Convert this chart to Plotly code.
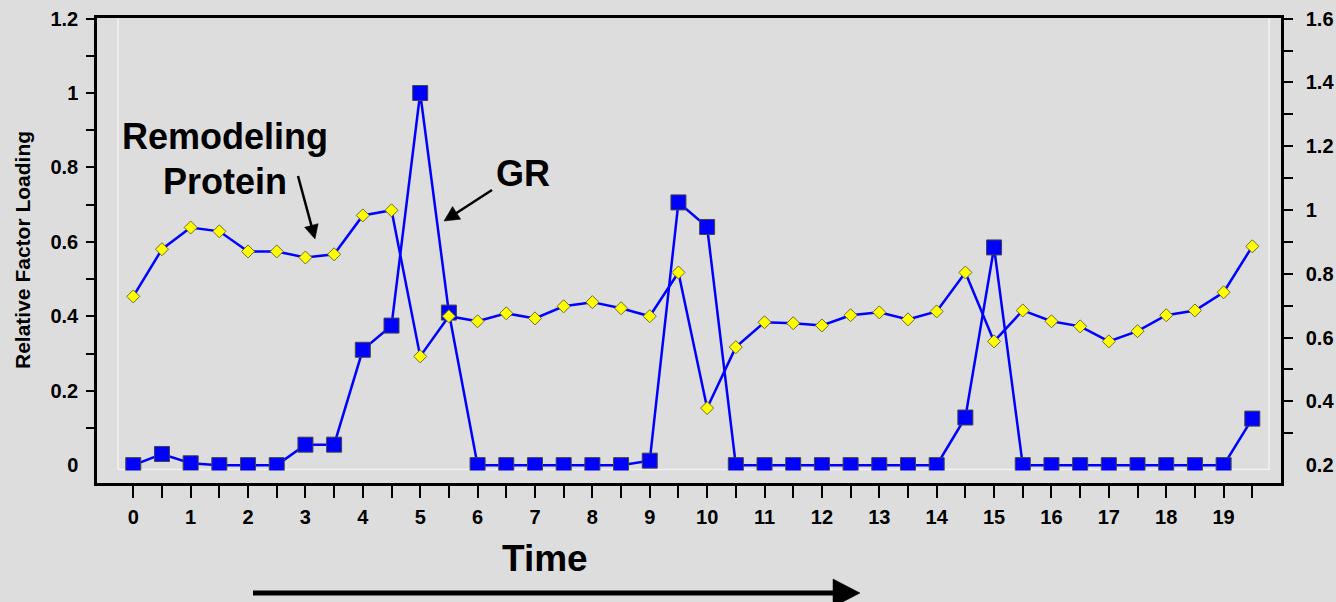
import math
import plotly.graph_objects as go

# ---------------- data ----------------
time_points = [i * 0.5 for i in range(40)]  # 0 .. 19.5

gr_loading = [0.0, 0.03, 0.005, 0.0, 0.0, 0.0, 0.055, 0.055, 0.31, 0.375,
              1.0, 0.41, 0.0, 0.0, 0.0, 0.0, 0.0, 0.0, 0.012, 0.706,
              0.64, 0.0, 0.0, 0.0, 0.0, 0.0, 0.0, 0.0, 0.0, 0.128,
              0.585, 0.0, 0.0, 0.0, 0.0, 0.0, 0.0, 0.0, 0.0, 0.125]

remodeling_loading = [0.729, 0.877, 0.945, 0.933, 0.870, 0.870, 0.851, 0.861, 0.983, 0.999,
                      0.541, 0.667, 0.651, 0.676, 0.660, 0.698, 0.711, 0.692, 0.667, 0.804,
                      0.379, 0.570, 0.648, 0.645, 0.638, 0.670, 0.679, 0.657, 0.682, 0.804,
                      0.588, 0.685, 0.651, 0.635, 0.588, 0.620, 0.670, 0.685, 0.742, 0.886]

x_tick_vals = [i * 0.5 for i in range(40)]
x_tick_text = [str(int(v)) if v == int(v) else "" for v in x_tick_vals]

y_tick_vals = [0, 0.2, 0.4, 0.6, 0.8, 1.0, 1.2]
y_tick_text = ["0", "0.2", "0.4", "0.6", "0.8", "1", "1.2"]
y_minor_vals = [0.1, 0.2, 0.3, 0.4, 0.5, 0.6, 0.7, 0.8, 0.9, 1.0, 1.1, 1.2]

y2_tick_vals = [0.2, 0.4, 0.6, 0.8, 1.0, 1.2, 1.4, 1.6]
y2_tick_text = ["0.2", "0.4", "0.6", "0.8", "1", "1.2", "1.4", "1.6"]
y2_minor_vals = [0.3, 0.4, 0.5, 0.6, 0.7, 0.8, 0.9, 1.0, 1.1, 1.2, 1.3, 1.4, 1.5, 1.6]

# ---------------- geometry helpers (page pixels -> paper) ----------------
W, H = 1336, 602
L, R, T, B = 97, 1281, 18, 483


def px(x):
    return (x - L) / (R - L)


def py(y):
    return (B - y) / (B - T)


BG = "rgb(221,221,221)"
FONT = "Liberation Sans"

fig = go.Figure()

fig.add_trace(go.Scatter(
    x=time_points, y=gr_loading, mode="lines+markers", name="GR",
    line=dict(color="#0000FF", width=2.5),
    marker=dict(symbol="square", size=15, color="#0000FF",
                line=dict(color="#444444", width=1)),
    yaxis="y", showlegend=False,
))

fig.add_trace(go.Scatter(
    x=time_points, y=remodeling_loading, mode="lines+markers", name="Remodeling Protein",
    line=dict(color="#0000FF", width=2.5),
    marker=dict(symbol="diamond", size=10, color="#FFFF00",
                line=dict(color="#6b6b30", width=1)),
    yaxis="y2", showlegend=False,
))

tickfont = dict(family=FONT, size=20, color="black", weight="bold")

fig.update_layout(
    width=W, height=H,
    margin=dict(l=L, r=W - R, t=T, b=H - B, pad=0, autoexpand=False),
    paper_bgcolor=BG, plot_bgcolor=BG,
    xaxis=dict(
        range=[-0.632, 20.0], tickmode="array", tickvals=x_tick_vals, ticktext=x_tick_text,
        ticks="outside", ticklen=12, tickwidth=2, tickcolor="black",
        showline=True, linecolor="black", linewidth=2.5, mirror=True, automargin=False,
        showgrid=False, zeroline=False, tickfont=tickfont, ticklabelstandoff=2,
    ),
    yaxis=dict(
        range=[-0.048, 1.2016], tickmode="array", tickvals=y_tick_vals, ticktext=y_tick_text,
        ticks="", showline=True, linecolor="black", linewidth=2.5, automargin=False,
        minor=dict(tickmode="array", tickvals=y_minor_vals, ticks="outside",
                   ticklen=8, tickwidth=2, tickcolor="black", showgrid=False),
        showgrid=False, zeroline=False, tickfont=tickfont, ticklabelstandoff=12,
    ),
    yaxis2=dict(
        range=[0.144, 1.6019], overlaying="y", side="right", automargin=False,
        tickmode="array", tickvals=y2_tick_vals, ticktext=y2_tick_text,
        ticks="", showline=True, linecolor="black", linewidth=2.5,
        minor=dict(tickmode="array", tickvals=y2_minor_vals, ticks="outside",
                   ticklen=9, tickwidth=2, tickcolor="black", showgrid=False),
        showgrid=False, zeroline=False, tickfont=tickfont, ticklabelstandoff=18,
    ),
)

shapes = []
# faint inner frame
shapes.append(dict(type="rect", xref="paper", yref="paper",
                   x0=px(118), x1=px(1269), y0=py(469.5), y1=py(17),
                   line=dict(color="rgb(242,242,242)", width=1.5), layer="below"))
# strip clipping the bottom of markers like the inner frame does
shapes.append(dict(type="rect", xref="paper", yref="paper",
                   x0=px(100), x1=px(1278), y0=py(481.5), y1=py(470.5),
                   line=dict(width=0), fillcolor=BG, layer="above"))


def arrow(x0, y0, x1, y1, width, head_len, head_half):
    dx, dy = x1 - x0, y1 - y0
    n = math.hypot(dx, dy)
    ux, uy = dx / n, dy / n
    cx, cy = x1 - head_len * ux, y1 - head_len * uy
    pxv, pyv = -uy, ux
    shapes.append(dict(type="line", xref="paper", yref="paper",
                       x0=px(x0), y0=py(y0), x1=px(cx + ux * 1.5), y1=py(cy + uy * 1.5),
                       line=dict(color="black", width=width)))
    a = (cx + head_half * pxv, cy + head_half * pyv)
    b = (cx - head_half * pxv, cy - head_half * pyv)
    path = "M {:.5f} {:.5f} L {:.5f} {:.5f} L {:.5f} {:.5f} Z".format(
        px(x1), py(y1), px(a[0]), py(a[1]), px(b[0]), py(b[1]))
    shapes.append(dict(type="path", xref="paper", yref="paper", path=path,
                       fillcolor="black", line=dict(color="black", width=0.5)))


arrow(298, 176, 315, 239, 2.5, 14, 7)
arrow(492, 190, 444, 221, 2.5, 15, 7.5)
arrow(253, 593, 860, 593, 5, 27, 14)

fig.update_layout(shapes=shapes)

big = dict(family=FONT, size=36, color="black", weight="bold")
annotations = [
    dict(text="Remodeling", x=px(225), y=py(136), font=big),
    dict(text="Protein", x=px(225), y=py(181), font=big),
    dict(text="GR", x=px(523), y=py(173), font=big),
    dict(text="Time", x=px(545), y=py(558), font=dict(family=FONT, size=37, color="black", weight="bold")),
    dict(text="Relative Factor Loading", x=px(22), y=py(250), textangle=-90,
         font=dict(family=FONT, size=21, color="black", weight="bold")),
]
for a in annotations:
    a.update(xref="paper", yref="paper", xanchor="center", yanchor="middle", showarrow=False)
fig.update_layout(annotations=annotations)

fig.write_html("out.html", config={"displayModeBar": False},
               post_script="document.body.style.margin='0';document.body.style.overflow='hidden';")
